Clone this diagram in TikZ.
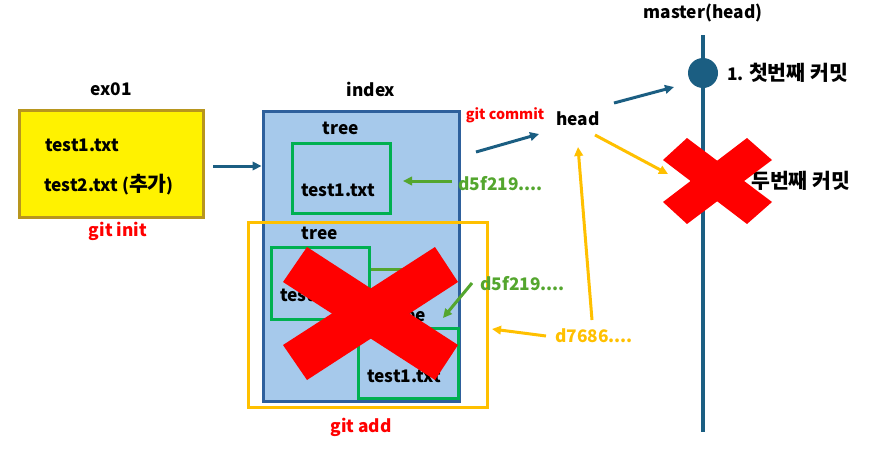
\documentclass[tikz,border=0pt]{standalone}
\usepackage{fontspec}
\setmainfont{Noto Sans CJK KR}
\usetikzlibrary{arrows.meta}
\definecolor{dblue}{RGB}{27,94,130}
\definecolor{ibox}{RGB}{166,201,235}
\definecolor{iborder}{RGB}{46,96,156}
\definecolor{ybord}{RGB}{184,150,30}
\definecolor{gbox}{RGB}{0,176,80}
\definecolor{garrow}{RGB}{84,166,46}
\definecolor{gold}{RGB}{255,192,0}
\definecolor{xred}{RGB}{255,0,0}
\newcommand\krtxt[1]{{\fontsize{20.5}{22}\selectfont #1}}
\tikzset{
  lbl/.style={font=\bfseries\fontsize{17.3}{20}\selectfont, inner sep=0pt},
  small/.style={font=\bfseries\fontsize{14.3}{16}\selectfont, inner sep=0pt},
  gboxst/.style={draw=gbox, line width=3pt},
  blarrow/.style={draw=dblue, line width=3pt, -{Triangle[length=9pt,width=8.5pt]}},
  garr/.style={draw=garrow, line width=3pt, -{Triangle[length=9pt,width=8.5pt]}},
  yarr/.style={draw=gold, line width=3pt, -{Triangle[length=9pt,width=8.5pt]}},
}
\begin{document}
\begin{tikzpicture}[x=1pt,y=-1pt]
\useasboundingbox (0,0) rectangle (880,463);
% ex01 box
\node[lbl] (ex) at (111,89) {ex01};
\node[draw=ybord, fill=yellow, line width=3pt, minimum width=184pt, minimum height=107pt, inner sep=0pt] (ybox) at (111,163.5) {};
\node[lbl, anchor=west] (t1) at (45,145) {test1.txt};
\node[lbl, anchor=west] (t2) at (44,185) {test2.txt (\krtxt{추가})};
\node[lbl, text=xred] (init) at (118,231) {git init};
% index box
\node[lbl] (idx) at (371,89) {index};
\node[draw=iborder, fill=ibox, line width=3pt, minimum width=196pt, minimum height=290pt, inner sep=0pt] (ibx) at (361,256) {};
\coordinate (a1s) at (213,166);
\draw[blarrow] (a1s) -- (ibx.west |- a1s);
\node[lbl] (tree1) at (341,128) {tree};
\node[gboxst, minimum width=98pt, minimum height=70pt] (g1) at (341,178) {};
\node[lbl] (g1t) at (338,190) {test1.txt};
\node[lbl] (tree2) at (320,233) {tree};
\node[gboxst, minimum width=98pt, minimum height=72pt] (g2) at (320,283) {};
\node[lbl, anchor=west] (g2t) at (280,295) {test1.txt};
\coordinate (g2e) at (410,269);
\draw[draw=garrow, line width=3pt] (g2.east |- g2e) -- (g2e);
\node[lbl] (tree3) at (408,315) {tree};
\node[gboxst, fill=ibox, minimum width=100pt, minimum height=70pt] (g3) at (408,363) {};
\node[lbl] (g3t) at (404,376) {test1.txt};
% gold box
\node[draw=gold, line width=3pt, minimum width=239pt, minimum height=185pt, inner sep=0pt] (gold) at (367.5,314.5) {};
\node[lbl, text=xred] (add) at (361,427) {git add};
% hashes
\node[lbl, text=garrow, anchor=west] (h1) at (458,184) {d5f219....};
\coordinate (h1a) at (403,181);
\draw[garr] (h1.west |- h1a) ++(-6,0) -- (h1a);
\node[lbl, text=garrow, anchor=west] (h2) at (480,284) {d5f219....};
\coordinate (h2s) at (472,283);
\coordinate (h2e) at (443,318);
\draw[garr] (h2s) -- (h2e);
\node[lbl, text=gold, anchor=west] (h3) at (555,336) {d7686....};
\coordinate (h3s) at (546,336);
\coordinate (h3e) at (492,329);
\draw[yarr] (h3s) -- (h3e);
% head
\node[small, text=xred] (gc) at (505,115) {git commit};
\node[lbl] (head) at (578,119) {head};
\coordinate (c1s) at (476,152);
\coordinate (c1e) at (539,134);
\draw[blarrow] (c1s) -- (c1e);
\coordinate (c2s) at (614,103);
\coordinate (c2e) at (674,87);
\draw[blarrow] (c2s) -- (c2e);
\coordinate (y1s) at (595,135);
\coordinate (y1e) at (668,174);
\draw[yarr] (y1s) -- (y1e);
\coordinate (y2s) at (592,320);
\coordinate (y2e) at (578,147);
\draw[yarr] (y2s) -- (y2e);
% master line
\node[lbl] (master) at (703,13) {master(head)};
\coordinate (mtop) at (703,35);
\coordinate (mbot) at (703,432);
\draw[dblue, line width=4.5pt] (mtop) -- (mbot);
\node[circle, fill=dblue, minimum size=30pt, inner sep=0pt] (c1) at (703,73) {};
\node[lbl, anchor=west] (k1) at (727,73) {1. \krtxt{첫번째 커밋}};
\node[lbl, anchor=west] (k2) at (751,181) {\krtxt{두번째 커밋}};
% red X marks
\fill[xred] (307,247) -- (458,345) -- (435,380) -- (283,282) -- cycle;
\fill[xred] (435,247) -- (458,282) -- (307,380) -- (283,345) -- cycle;
\fill[xred] (687,138) -- (772,202) -- (747,224) -- (663,160) -- cycle;
\fill[xred] (747,138) -- (772,160) -- (687,224) -- (663,202) -- cycle;
\end{tikzpicture}
\end{document}
